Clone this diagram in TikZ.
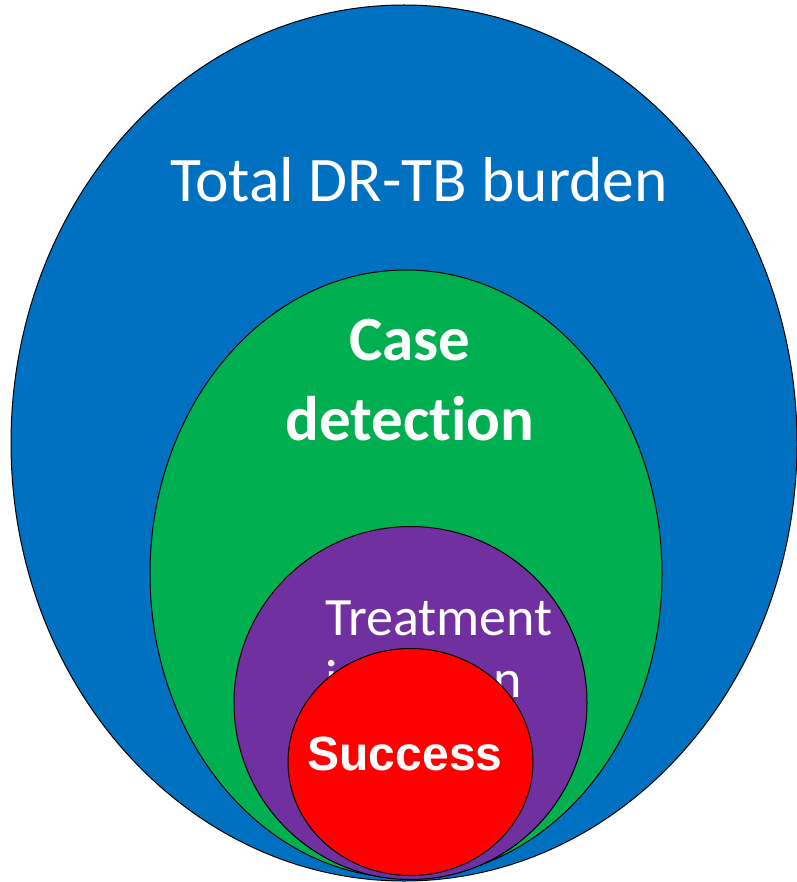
\documentclass[tikz,border=0pt]{standalone}
\usepackage{fontspec}
\setmainfont[Ligatures=NoCommon]{Carlito}
\newfontfamily\arialfont{Liberation Sans}
\definecolor{cblue}{HTML}{0070C0}
\definecolor{cgreen}{HTML}{00B050}
\definecolor{cpurple}{HTML}{7030A0}
\definecolor{cred}{HTML}{FF0000}
\tikzset{
  ring/.style={draw=black, line width=1pt},
  lbl/.style={text=white, inner sep=0pt, anchor=base},
}
\begin{document}
\begin{tikzpicture}[x=1pt,y=-1pt]
\useasboundingbox (0,0) rectangle (796,882);
\fill[white] (0,0) rectangle (796,882);
\draw[ring, fill=cblue] (404,443) ellipse [x radius=393, y radius=438];
\draw[ring, fill=cgreen] (406,574) ellipse [x radius=256, y radius=304];
\draw[ring, fill=cpurple] (410.5,703) ellipse [x radius=176.5, y radius=176.5];
\node[lbl, font=\fontsize{54}{62}\selectfont, align=left, anchor=base west] (treat) at (325,697) {Treatment\\initiation};
\draw[ring, fill=cred] (410.5,762) ellipse [x radius=122.5, y radius=113.5];
\node[lbl, font=\fontsize{63.5}{80}\selectfont] (total) at (419,202) {Total DR-TB burden};
\node[lbl, font=\bfseries\fontsize{63}{80}\selectfont, align=center] (case) at (410,440) {Case\\detection};
\node[lbl, font=\arialfont\bfseries\fontsize{48}{56}\selectfont] (succ) at (405,770) {Success};
\end{tikzpicture}
\end{document}
